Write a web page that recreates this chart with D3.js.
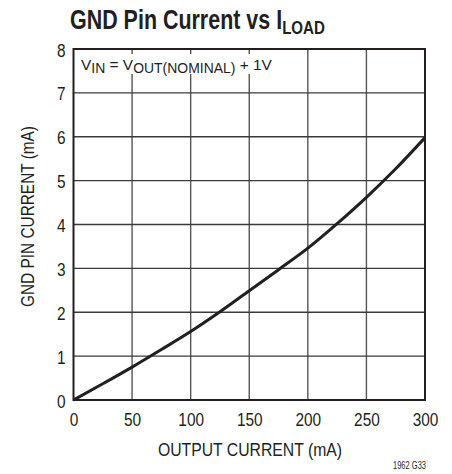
<!DOCTYPE html>
<html>
<head>
<meta charset="utf-8">
<script src="https://cdn.jsdelivr.net/npm/d3@7"></script>
<style>
  html, body { margin: 0; padding: 0; background: #fff; }
  svg text { font-family: "Liberation Sans", Arial, Helvetica, sans-serif; fill: #231f20; }
</style>
</head>
<body>
<svg id="chart" width="452" height="474"></svg>
<script>
// ---- data ----
const outputCurrent = [0, 25, 50, 75, 100, 125, 150, 175, 200, 225, 250, 275, 300];
const gndCurrent    = [0, 0.37, 0.75, 1.15, 1.56, 2.01, 2.49, 2.97, 3.46, 4.02, 4.62, 5.27, 5.98];
const xTicks = [0, 50, 100, 150, 200, 250, 300];
const yTicks = [0, 1, 2, 3, 4, 5, 6, 7, 8];

(function () {
const svg = d3.select("#chart");
const pLeft = 73.5, pRight = 425, pTop = 49, pBottom = 400;
const ink = "#231f20";

const x = d3.scaleLinear().domain([0, 300]).range([pLeft, pRight]);
const y = d3.scaleLinear().domain([0, 8]).range([pBottom, pTop]);

function condense(sel, factor) {
  sel.each(function () {
    const w = this.getComputedTextLength();
    d3.select(this).attr("textLength", w * factor).attr("lengthAdjust", "spacingAndGlyphs");
  });
}
function fitTo(sel, target) {
  sel.attr("textLength", target).attr("lengthAdjust", "spacingAndGlyphs");
}
function scaleTo(sel, x0, y0, target) {
  const w = sel.node().getComputedTextLength();
  sel.attr("x", 0).attr("y", 0).attr("transform", `translate(${x0},${y0}) scale(${target / w},1)`);
}

// grid
const grid = svg.append("g");
grid.selectAll("line.v").data(xTicks.slice(1, -1)).join("line")
  .attr("x1", d => x(d)).attr("x2", d => x(d))
  .attr("y1", pTop).attr("y2", pBottom)
  .attr("stroke", "#555557").attr("stroke-width", 1.4);
grid.selectAll("line.h").data(yTicks.slice(1, -1)).join("line")
  .attr("x1", pLeft).attr("x2", pRight)
  .attr("y1", d => y(d)).attr("y2", d => y(d))
  .attr("stroke", "#3a3a3c").attr("stroke-width", 1.4);

// annotation background (grid interrupted behind the text)
svg.append("rect").attr("x", pLeft + 1.5).attr("y", 54).attr("width", 205).attr("height", 20).attr("fill", "#fff");

// frame
svg.append("rect").attr("x", pLeft).attr("y", pTop).attr("width", pRight - pLeft).attr("height", pBottom - pTop)
  .attr("fill", "none").attr("stroke", ink).attr("stroke-width", 2);

// tick labels via d3 axes
const xAxis = d3.axisBottom(x).tickValues(xTicks).tickSize(0).tickPadding(14);
const gx = svg.append("g").attr("transform", `translate(0,${pBottom})`).call(xAxis);
gx.select(".domain").remove();
gx.attr("font-family", null).attr("font-size", null);
gx.selectAll("text").attr("font-size", 17.5);

const yAxis = d3.axisLeft(y).tickValues(yTicks).tickSize(0).tickPadding(8);
const gy = svg.append("g").attr("transform", `translate(${pLeft},0)`).call(yAxis);
gy.select(".domain").remove();
gy.attr("font-family", null).attr("font-size", null);
gy.selectAll("text").attr("font-size", 17.5).attr("dy", "0.4em");
svg.selectAll(".tick text").attr("fill", ink);
condense(svg.selectAll(".tick text"), 0.88);

// curve
const line = d3.line().x((d, i) => x(outputCurrent[i])).y(d => y(d)).curve(d3.curveMonotoneX);
svg.append("path").datum(gndCurrent).attr("d", line)
  .attr("fill", "none").attr("stroke", ink).attr("stroke-width", 3);

// title (single text, subscript as tspan)
const title = svg.append("text").attr("font-size", 27).attr("font-weight", "bold");
title.append("tspan").text("GND Pin Current vs I");
title.append("tspan").attr("dy", 5).attr("font-size", 19).text("LOAD");
scaleTo(title, 70, 28.5, 255);

// annotation
const ann = svg.append("text").attr("font-size", 15.5);
ann.append("tspan").text("V");
ann.append("tspan").attr("dy", 3.5).attr("font-size", 14).text("IN");
ann.append("tspan").attr("dy", -3.5).text(" = V");
ann.append("tspan").attr("dy", 3.5).attr("font-size", 14).text("OUT(NOMINAL)");
ann.append("tspan").attr("dy", -3.5).text(" + 1V");
scaleTo(ann, 81, 69.5, 191);

// axis titles
const xt = svg.append("text").attr("x", 250).attr("y", 456).attr("text-anchor", "middle")
  .attr("font-size", 19).text("OUTPUT CURRENT (mA)");
fitTo(xt, 184);
const yt = svg.append("text").attr("transform", `translate(34,216.5) rotate(-90)`)
  .attr("text-anchor", "middle").attr("font-size", 19).text("GND PIN CURRENT (mA)");
fitTo(yt, 181);

// figure code
const fc = svg.append("text").attr("x", 393).attr("y", 469).attr("font-size", 11.5).text("1962 G33");
fitTo(fc, 33);
})();
</script>
</body>
</html>
